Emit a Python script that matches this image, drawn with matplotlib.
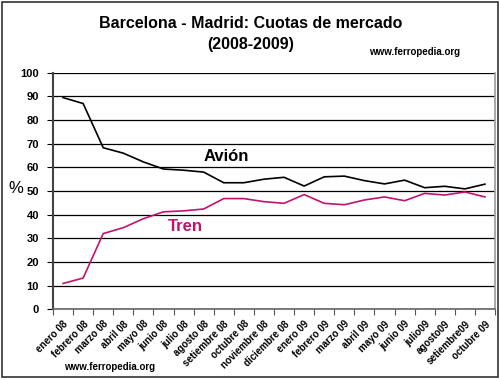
import numpy as np
import matplotlib
matplotlib.use("Agg")
import matplotlib.pyplot as plt
from matplotlib.patches import Rectangle

months = ["enero 08", "febrero 08", "marzo 08", "abril 08", "mayo 08", "junio 08",
          "julio 08", "agosto 08", "setiembre 08", "octubre 08", "noviembre 08",
          "diciembre 08", "enero 09", "febrero 09", "marzo 09", "abril 09", "mayo 09",
          "junio 09", "julio09", "agosto09", "setiembre09", "octubre 09"]
avion = [89.5, 87.0, 68.3, 66.0, 62.3, 59.3, 58.8, 58.0, 53.5, 53.5, 55.0,
         55.8, 52.1, 56.0, 56.3, 54.4, 53.0, 54.6, 51.4, 52.0, 50.9, 52.9]
tren = [10.9, 13.2, 32.0, 34.5, 38.3, 41.2, 41.6, 42.4, 46.8, 46.8, 45.5,
        44.8, 48.5, 44.8, 44.2, 46.2, 47.5, 45.9, 49.0, 48.3, 49.6, 47.5]

plt.rcParams["font.family"] = ["Liberation Sans", "DejaVu Sans"]

fig = plt.figure(figsize=(5.0, 3.79), dpi=100)
ax = fig.add_axes([0.106, 0.184, 0.884, 0.624])

x = np.arange(len(months))
ax.plot(x, avion, color="black", lw=1.2)
ax.plot(x, tren, color="#c2126f", lw=1.2)

ax.set_xlim(-0.5, len(months) - 0.5)
ax.set_ylim(0, 100)
ax.set_yticks(range(0, 101, 10))
ax.yaxis.grid(True, color="black", lw=0.9)
ax.set_axisbelow(True)

ax.set_xticks(x)
ax.set_xticklabels(months, rotation=45, ha="right", rotation_mode="anchor",
                   fontsize=7)
ax.set_xticks(np.arange(-0.5, len(months), 1), minor=True)
ax.tick_params(axis="x", which="major", length=0, pad=7)
ax.tick_params(axis="x", which="minor", length=4, width=0.8, color="#555555", direction="out")
ax.tick_params(axis="y", length=4, width=0.8, labelsize=8, pad=6)
for lab in ax.get_yticklabels():
    lab.set_fontweight("bold")
for lab in ax.get_xticklabels():
    lab.set_fontweight("bold")

ax.spines["left"].set_color("#444444")
ax.spines["left"].set_linewidth(1.5)
ax.spines["bottom"].set_color("#666666")
ax.spines["bottom"].set_linewidth(1.2)
ax.spines["right"].set_color("#999999")
ax.spines["right"].set_linewidth(1.2)
ax.spines["top"].set_visible(False)

fig.text(0.032, 0.503, "%", fontsize=12, ha="center", va="center")

ax.text(8.1, 64.5, "Avión", fontsize=12, fontweight="bold", ha="center", va="center")
ax.text(6.1, 35, "Tren", fontsize=12, fontweight="bold", color="#c2126f",
        ha="center", va="center")

fig.text(0.502, 0.937, "Barcelona - Madrid: Cuotas de mercado", fontsize=11.5,
         fontweight="bold", ha="center", va="center")
fig.text(0.502, 0.883, "(2008-2009)", fontsize=11.5, fontweight="bold",
         ha="center", va="center")
fig.text(0.829, 0.862, "www.ferropedia.org", fontsize=7, fontweight="bold",
         ha="center", va="center")
fig.text(0.22, 0.032, "www.ferropedia.org", fontsize=7, fontweight="bold",
         ha="center", va="center")

fig.patches.append(Rectangle((0.004, 0.004), 0.992, 0.992, transform=fig.transFigure,
                             fill=False, edgecolor="#333333", lw=1.2))

fig.savefig("out.png", dpi=100)
